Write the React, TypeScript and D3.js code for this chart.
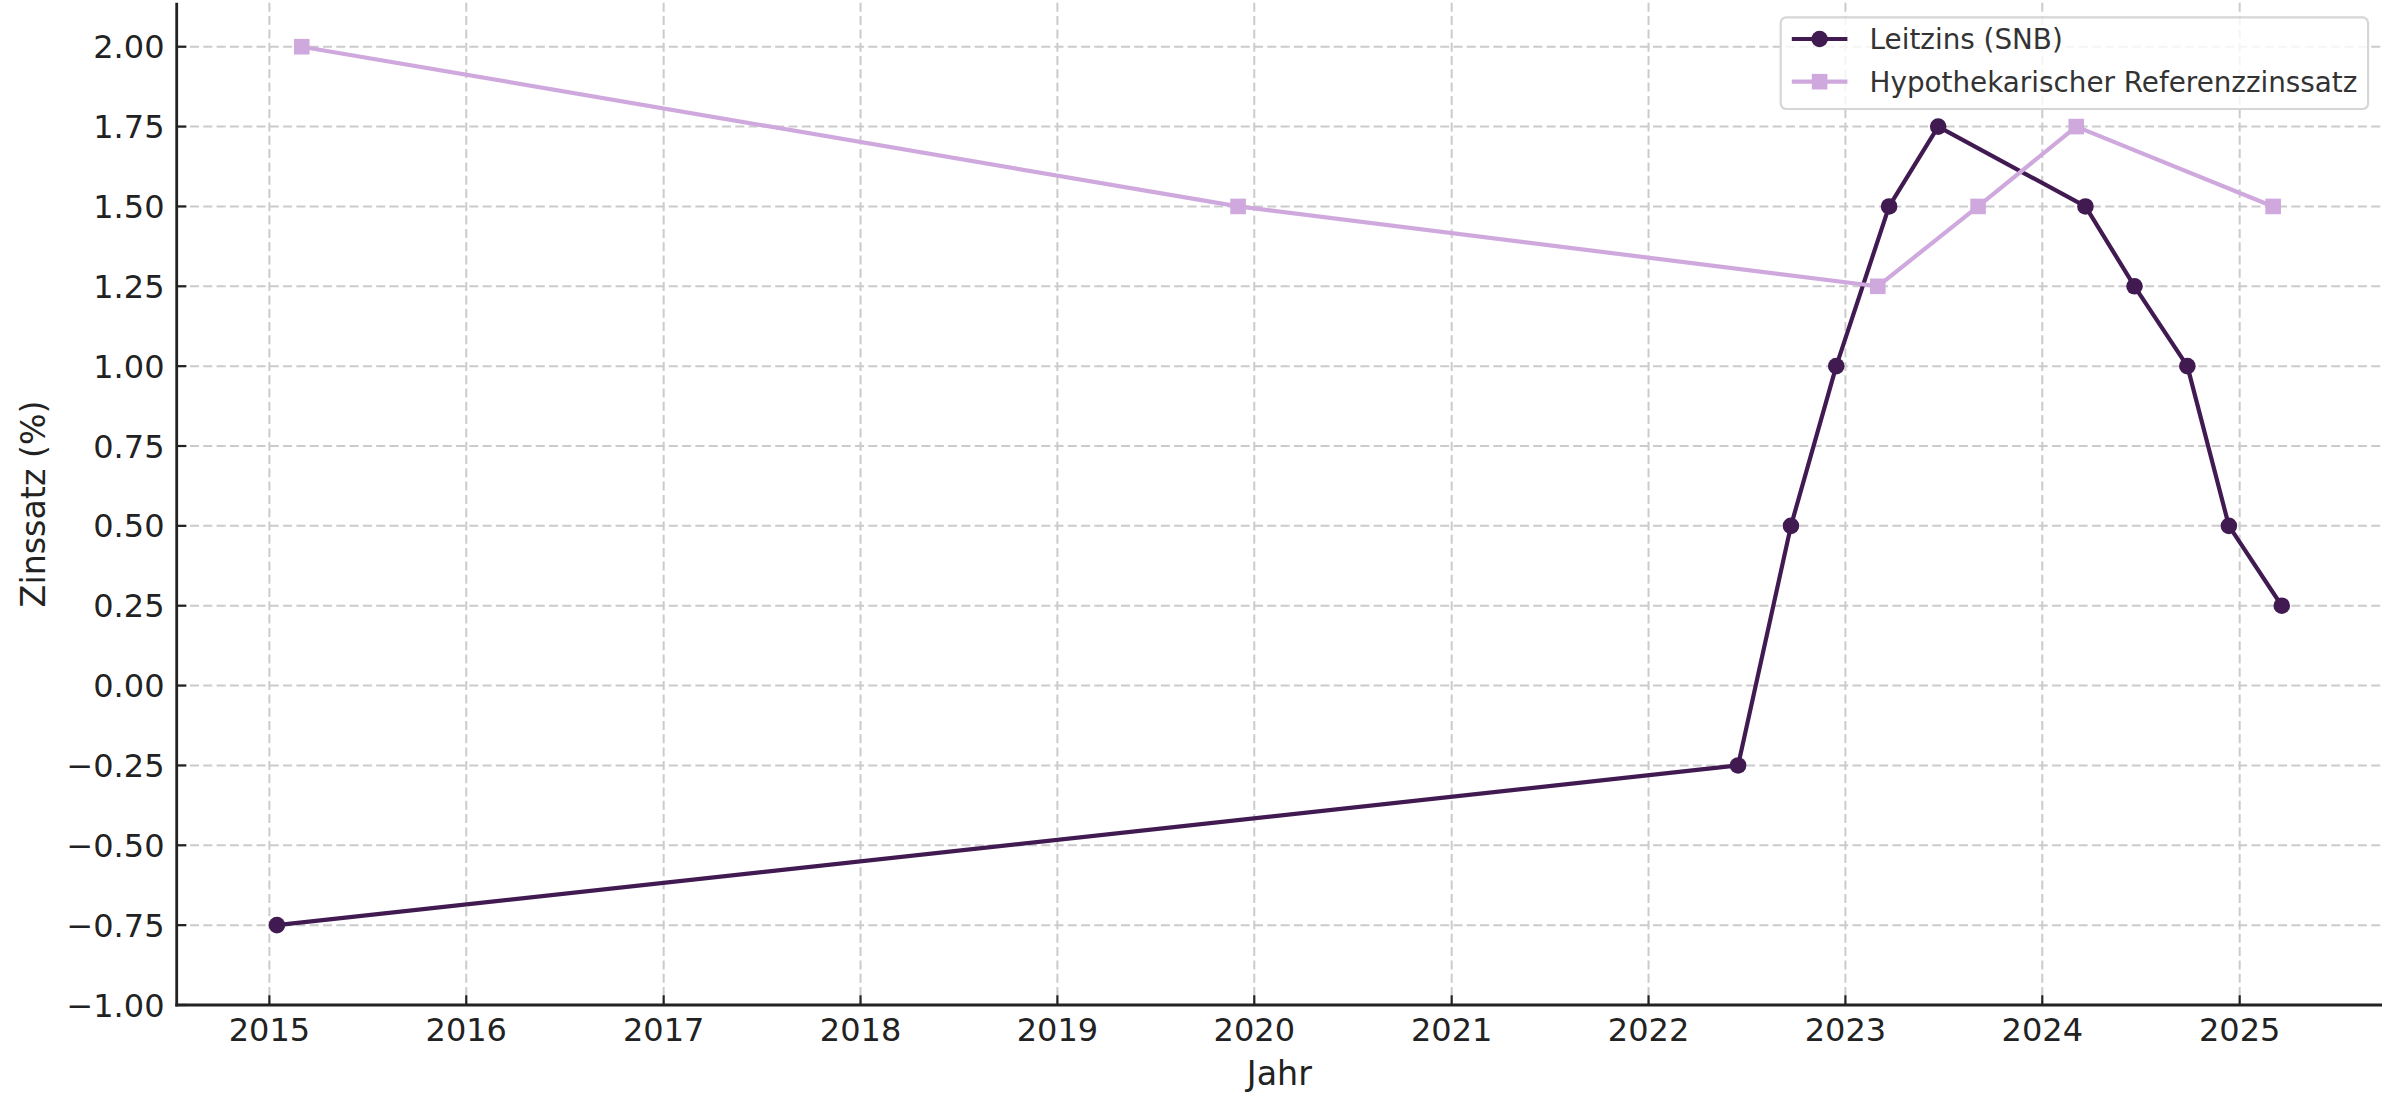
import React from "react";
import * as d3 from "d3";

const leitzinsDates = ["2015-01-15", "2022-06-16", "2022-09-22", "2022-12-15", "2023-03-23", "2023-06-22", "2024-03-21", "2024-06-20", "2024-09-26", "2024-12-12", "2025-03-20"];
const leitzinsValues = [-0.75, -0.25, 0.5, 1.0, 1.5, 1.75, 1.5, 1.25, 1.0, 0.5, 0.25];

const referenzDates = ["2015-03-02", "2019-12-02", "2023-03-02", "2023-09-04", "2024-03-04", "2025-03-04"];
const referenzValues = [2.0, 1.5, 1.25, 1.5, 1.75, 1.5];

const xTickYears = [2015, 2016, 2017, 2018, 2019, 2020, 2021, 2022, 2023, 2024, 2025];
const yTickValues = [-1.0, -0.75, -0.5, -0.25, 0.0, 0.25, 0.5, 0.75, 1.0, 1.25, 1.5, 1.75, 2.0];

const seriesNames = ["Leitzins (SNB)", "Hypothekarischer Referenzzinssatz"];
const seriesColors = ["#421a52", "#cfa9dd"];

const W = 2400;
const H = 1112;
const left = 176.7;
const right = 2382;
const top = 2.8;
const bottom = 1005;
const FONT = "'DejaVu Sans', sans-serif";

export default function App() {
  const parse = d3.timeParse("%Y-%m-%d");
  const leit = leitzinsDates.map((d, i) => ({ date: parse(d) as Date, value: leitzinsValues[i] }));
  const ref = referenzDates.map((d, i) => ({ date: parse(d) as Date, value: referenzValues[i] }));
  const all = [...leit, ...ref];
  const ext = d3.extent(all, (d) => d.date.getTime()) as [number, number];
  const pad = (ext[1] - ext[0]) * 0.05;
  const x = d3.scaleTime().domain([new Date(ext[0] - pad), new Date(ext[1] + pad)]).range([left, right]);
  const yMax = 2.0 + (2.0 - -0.75) * 0.05;
  const y = d3.scaleLinear().domain([-1.0, yMax]).range([bottom, top]);
  const fmt = d3.format(".2f");
  const line = d3
    .line<{ date: Date; value: number }>()
    .x((d) => x(d.date))
    .y((d) => y(d.value));

  const legendFont = 27.8;
  const lgRight = right - 13.9;
  const lgLeft = 1780.7;
  const lgTop = 17.3;
  const lgBottom = 109;
  const rowY = [39, 81.7];
  const hx0 = lgLeft + 11.1;
  const hx1 = hx0 + 55.6;
  const tx = hx1 + 22.2;

  return (
    <svg width={W} height={H} style={{ position: "absolute", left: 0, top: 0, background: "#fff" }} fontFamily={FONT}>
      <rect x={0} y={0} width={W} height={H} fill="#fff" />
      {/* grid */}
      {xTickYears.map((yr) => {
        const px = x(new Date(yr, 0, 1));
        return <line key={"gx" + yr} x1={px} x2={px} y1={top} y2={bottom} stroke="#cbcbcb" strokeWidth={2} strokeDasharray="9,4.3" />;
      })}
      {yTickValues.map((v) => (
        <line key={"gy" + v} x1={left} x2={right} y1={y(v)} y2={y(v)} stroke="#cbcbcb" strokeWidth={2} strokeDasharray="9,4.3" />
      ))}
      {/* series */}
      <path d={line(leit) || ""} fill="none" stroke={seriesColors[0]} strokeWidth={4.2} strokeLinejoin="round" />
      {leit.map((d, i) => (
        <circle key={"lc" + i} cx={x(d.date)} cy={y(d.value)} r={8.3} fill={seriesColors[0]} />
      ))}
      <path d={line(ref) || ""} fill="none" stroke={seriesColors[1]} strokeWidth={4.2} strokeLinejoin="round" />
      {ref.map((d, i) => (
        <rect key={"rs" + i} x={x(d.date) - 7.8} y={y(d.value) - 7.8} width={15.6} height={15.6} fill={seriesColors[1]} />
      ))}
      {/* axes */}
      <line x1={left} x2={left} y1={top} y2={bottom + 1.4} stroke="#222" strokeWidth={2.8} />
      <line x1={left - 1.4} x2={right} y1={bottom} y2={bottom} stroke="#222" strokeWidth={2.8} />
      {xTickYears.map((yr) => {
        const px = x(new Date(yr, 0, 1));
        return (
          <g key={"xt" + yr}>
            <line x1={px} x2={px} y1={bottom} y2={bottom - 9.7} stroke="#222" strokeWidth={2.2} />
            <text x={px} y={1041} textAnchor="middle" fontSize={32} fill="#222">
              {yr}
            </text>
          </g>
        );
      })}
      {yTickValues.map((v) => (
        <g key={"yt" + v}>
          <line x1={left} x2={left + 9.7} y1={y(v)} y2={y(v)} stroke="#222" strokeWidth={2.2} />
          <text x={164.5} y={y(v)} dy="0.36em" textAnchor="end" fontSize={32} fill="#222">
            {fmt(v)}
          </text>
        </g>
      ))}
      <text x={(left + right) / 2} y={1085} textAnchor="middle" fontSize={33.3} fill="#222">
        Jahr
      </text>
      <text transform={`translate(45,${(top + bottom) / 2}) rotate(-90)`} textAnchor="middle" fontSize={33.3} fill="#222">
        Zinssatz (%)
      </text>
      {/* legend */}
      <rect x={lgLeft} y={lgTop} width={lgRight - lgLeft} height={lgBottom - lgTop} rx={5.5} fill="#fff" fillOpacity={0.8} stroke="#d6d6d6" strokeWidth={2.2} />
      <line x1={hx0} x2={hx1} y1={rowY[0]} y2={rowY[0]} stroke={seriesColors[0]} strokeWidth={4.2} />
      <circle cx={(hx0 + hx1) / 2} cy={rowY[0]} r={8.3} fill={seriesColors[0]} />
      <line x1={hx0} x2={hx1} y1={rowY[1]} y2={rowY[1]} stroke={seriesColors[1]} strokeWidth={4.2} />
      <rect x={(hx0 + hx1) / 2 - 7.8} y={rowY[1] - 7.8} width={15.6} height={15.6} fill={seriesColors[1]} />
      {seriesNames.map((n, i) => (
        <text key={"lt" + i} x={tx} y={rowY[i]} dy="0.36em" fontSize={legendFont} fill="#333">
          {n}
        </text>
      ))}
    </svg>
  );
}
